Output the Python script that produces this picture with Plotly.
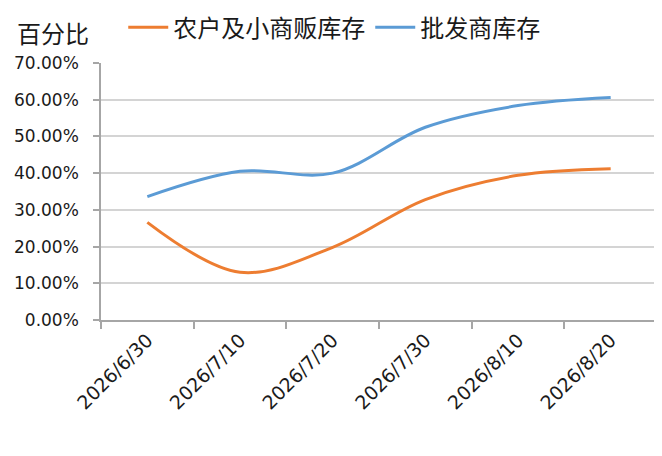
import plotly.graph_objects as go

# values (fractions, shown as percent)
dates = ["2026/6/30", "2026/7/10", "2026/7/20", "2026/7/30", "2026/8/10", "2026/8/20"]
farmer_small_trader = [0.266, 0.130, 0.198, 0.328, 0.394, 0.412]
wholesaler = [0.336, 0.405, 0.400, 0.525, 0.584, 0.606]

CJK = "Noto Sans CJK SC"
NUM = "DejaVu Sans"
AXIS_GRAY = "#a6a6a6"

fig = go.Figure()
fig.add_trace(go.Scatter(
    x=dates, y=farmer_small_trader, name="农户及小商贩库存",
    mode="lines", line=dict(color="#ED7D31", width=3, shape="spline", smoothing=1.0),
))
fig.add_trace(go.Scatter(
    x=dates, y=wholesaler, name="批发商库存",
    mode="lines", line=dict(color="#5B9BD5", width=3, shape="spline", smoothing=1.0),
))

# the page body adds an 8px offset, so margins are shifted to compensate
fig.update_layout(
    width=662,
    height=456,
    margin=dict(l=93, r=13, t=55, b=144, autoexpand=False),
    paper_bgcolor="white",
    plot_bgcolor="white",
    showlegend=True,
    legend=dict(
        orientation="h",
        x=0.04, xanchor="left",
        y=1.138, yanchor="middle",
        font=dict(family=CJK, size=24, color="#1a1a1a"),
        itemwidth=40,
        bgcolor="rgba(0,0,0,0)",
    ),
    annotations=[dict(
        text="百分比", xref="paper", yref="paper",
        x=-0.155, y=1.117, xanchor="left", yanchor="middle",
        showarrow=False, font=dict(family=CJK, size=24, color="#1a1a1a"),
    )],
)

fig.update_xaxes(
    type="category",
    range=[-0.5, 5.5],
    tickson="boundaries",
    automargin=False,
    showgrid=False,
    showline=True, linecolor=AXIS_GRAY, linewidth=1.5,
    ticks="outside", ticklen=7, tickcolor=AXIS_GRAY, tickwidth=1.5,
    tickangle=-45,
    tickfont=dict(family=NUM, size=19, color="#1a1a1a"),
)
fig.update_yaxes(
    range=[0, 0.7],
    dtick=0.1,
    tickformat=".2%",
    automargin=False,
    showgrid=True, gridcolor="#d4d4d4", gridwidth=1.5,
    zeroline=False,
    showline=True, linecolor=AXIS_GRAY, linewidth=1.5,
    ticks="outside", ticklen=6, tickcolor=AXIS_GRAY, tickwidth=1.5,
    ticklabelstandoff=11,
    tickfont=dict(family=NUM, size=17, color="#1a1a1a"),
)

fig.write_html("out.html")
